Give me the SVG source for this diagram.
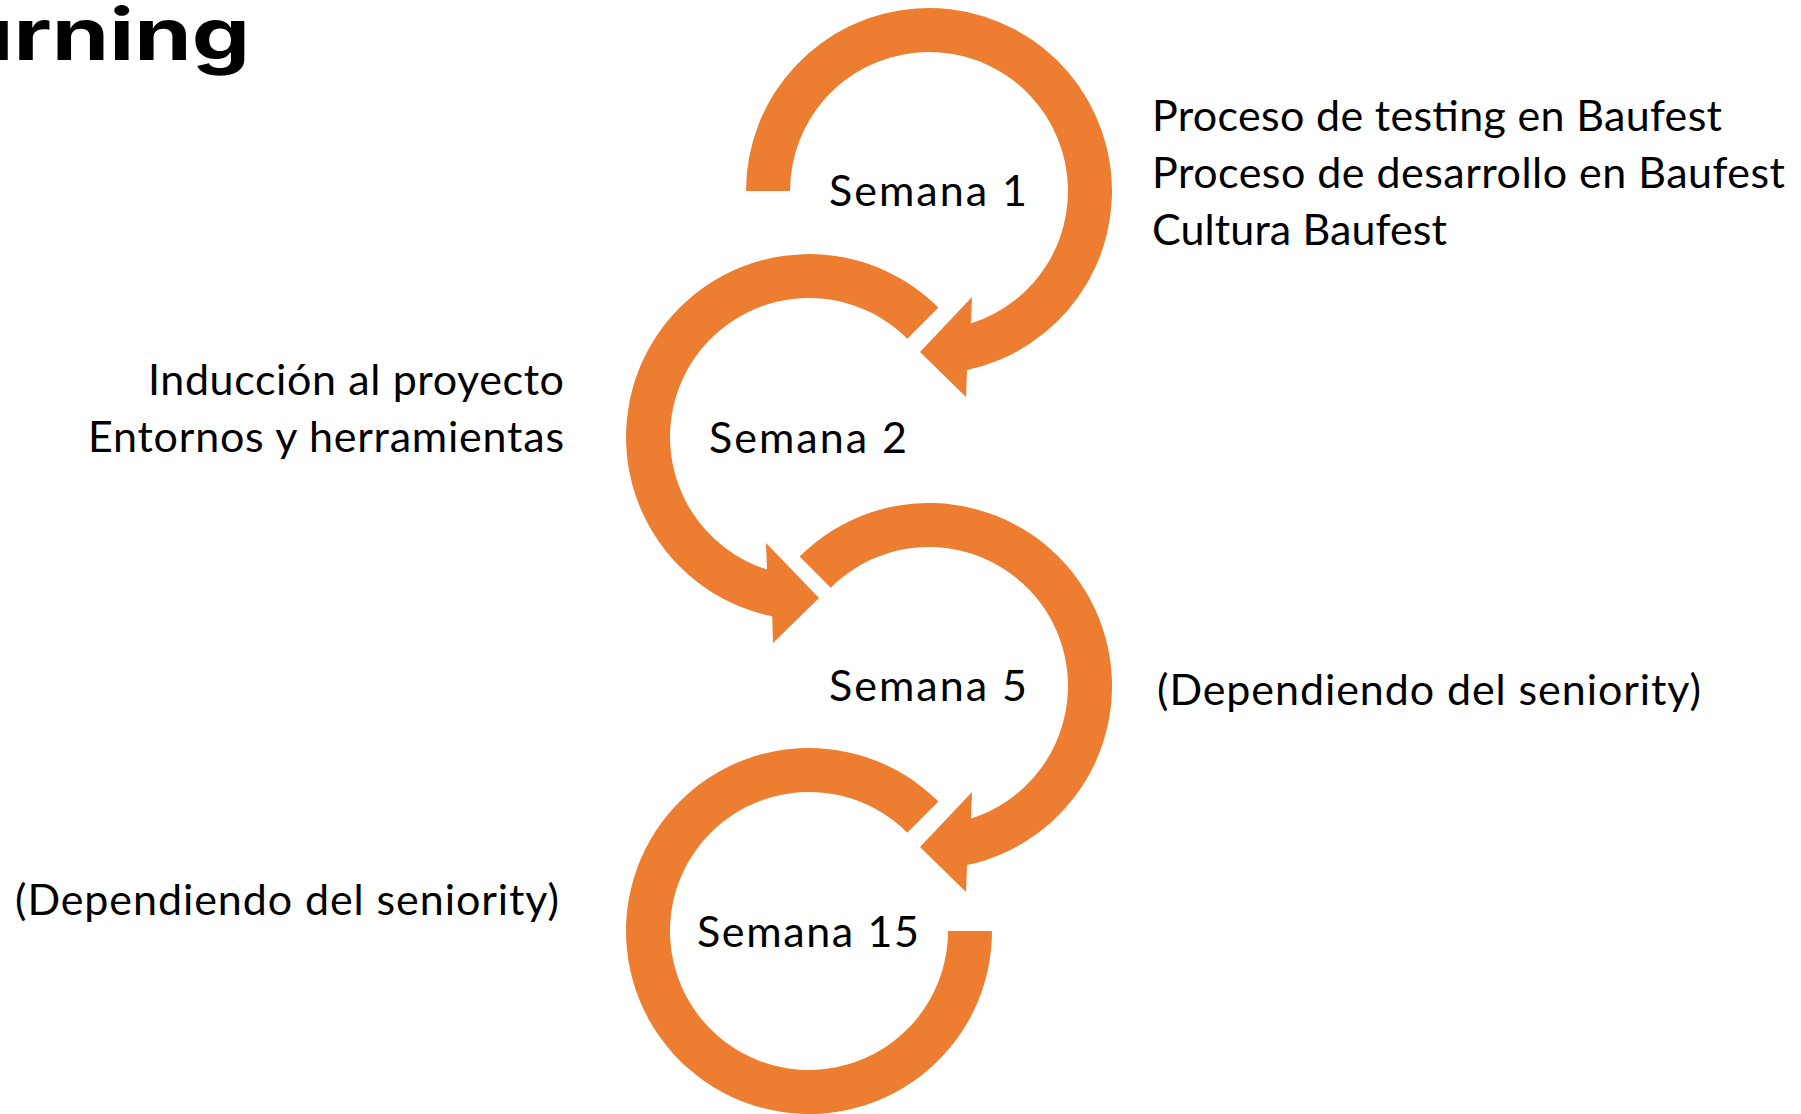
<svg xmlns="http://www.w3.org/2000/svg" width="1801" height="1114" viewBox="0 0 1801 1114">
  <style>
    .ring { fill: #ED7D31; stroke: none; }
    .lbl { font-family: Lato, "Open Sans", "Liberation Sans", sans-serif; font-size: 43px; fill: #000000; }
    .mid { text-anchor: middle; }
    .end { text-anchor: end; }
    .title { font-family: Inter, "Open Sans", "Liberation Sans", sans-serif; font-weight: 700; font-size: 72px; fill: #000000; }
  </style>
  <rect x="0" y="0" width="1801" height="1114" fill="#FFFFFF"/>

  <g id="title">
    <text class="title" x="-44" y="60" textLength="294" lengthAdjust="spacingAndGlyphs">urning</text>
  </g>

  <g id="node-semana1">
    <path class="ring" d="M 746 191 A 183 183 0 1 1 967 370 L 966 397 L 920 352 L 972 297 L 971 323.5 A 139 139 0 1 0 790 191 Z"/>
    <text class="lbl mid" x="928" y="206" textLength="198">Semana 1</text>
  </g>

  <g id="node-semana2">
    <path class="ring" d="M 938.4 307.6 A 183 183 0 1 0 772.2 616.3 L 773 643 L 819 598 L 766 543 L 767 569.5 A 139 139 0 1 1 907.3 338.7 Z"/>
    <text class="lbl mid" x="808" y="453" textLength="198">Semana 2</text>
  </g>

  <g id="node-semana5">
    <path class="ring" d="M 799.6 556.6 A 183 183 0 1 1 967 865 L 966 892 L 920 847 L 972 792 L 971 818.5 A 139 139 0 1 0 830.7 587.7 Z"/>
    <text class="lbl mid" x="928" y="701" textLength="198">Semana 5</text>
  </g>

  <g id="node-semana15">
    <path class="ring" d="M 938.4 801.6 A 183 183 0 1 0 992 931 L 948 931 A 139 139 0 1 1 907.3 832.7 Z"/>
    <text class="lbl mid" x="808" y="947" textLength="222">Semana 15</text>
  </g>

  <g id="notes-semana1">
    <text class="lbl" x="1152" y="131" textLength="570">Proceso de testing en Baufest</text>
    <text class="lbl" x="1152" y="188" textLength="633">Proceso de desarrollo en Baufest</text>
    <text class="lbl" x="1152" y="245" textLength="295">Cultura Baufest</text>
  </g>

  <g id="notes-semana2">
    <text class="lbl end" x="564" y="395" textLength="416">Inducción al proyecto</text>
    <text class="lbl end" x="564" y="452" textLength="476">Entornos y herramientas</text>
  </g>

  <g id="notes-semana5">
    <text class="lbl" x="1157" y="705" textLength="544">(Dependiendo del seniority)</text>
  </g>

  <g id="notes-semana15">
    <text class="lbl" x="15" y="915" textLength="544">(Dependiendo del seniority)</text>
  </g>

  <g id="connectors"></g>
</svg>
